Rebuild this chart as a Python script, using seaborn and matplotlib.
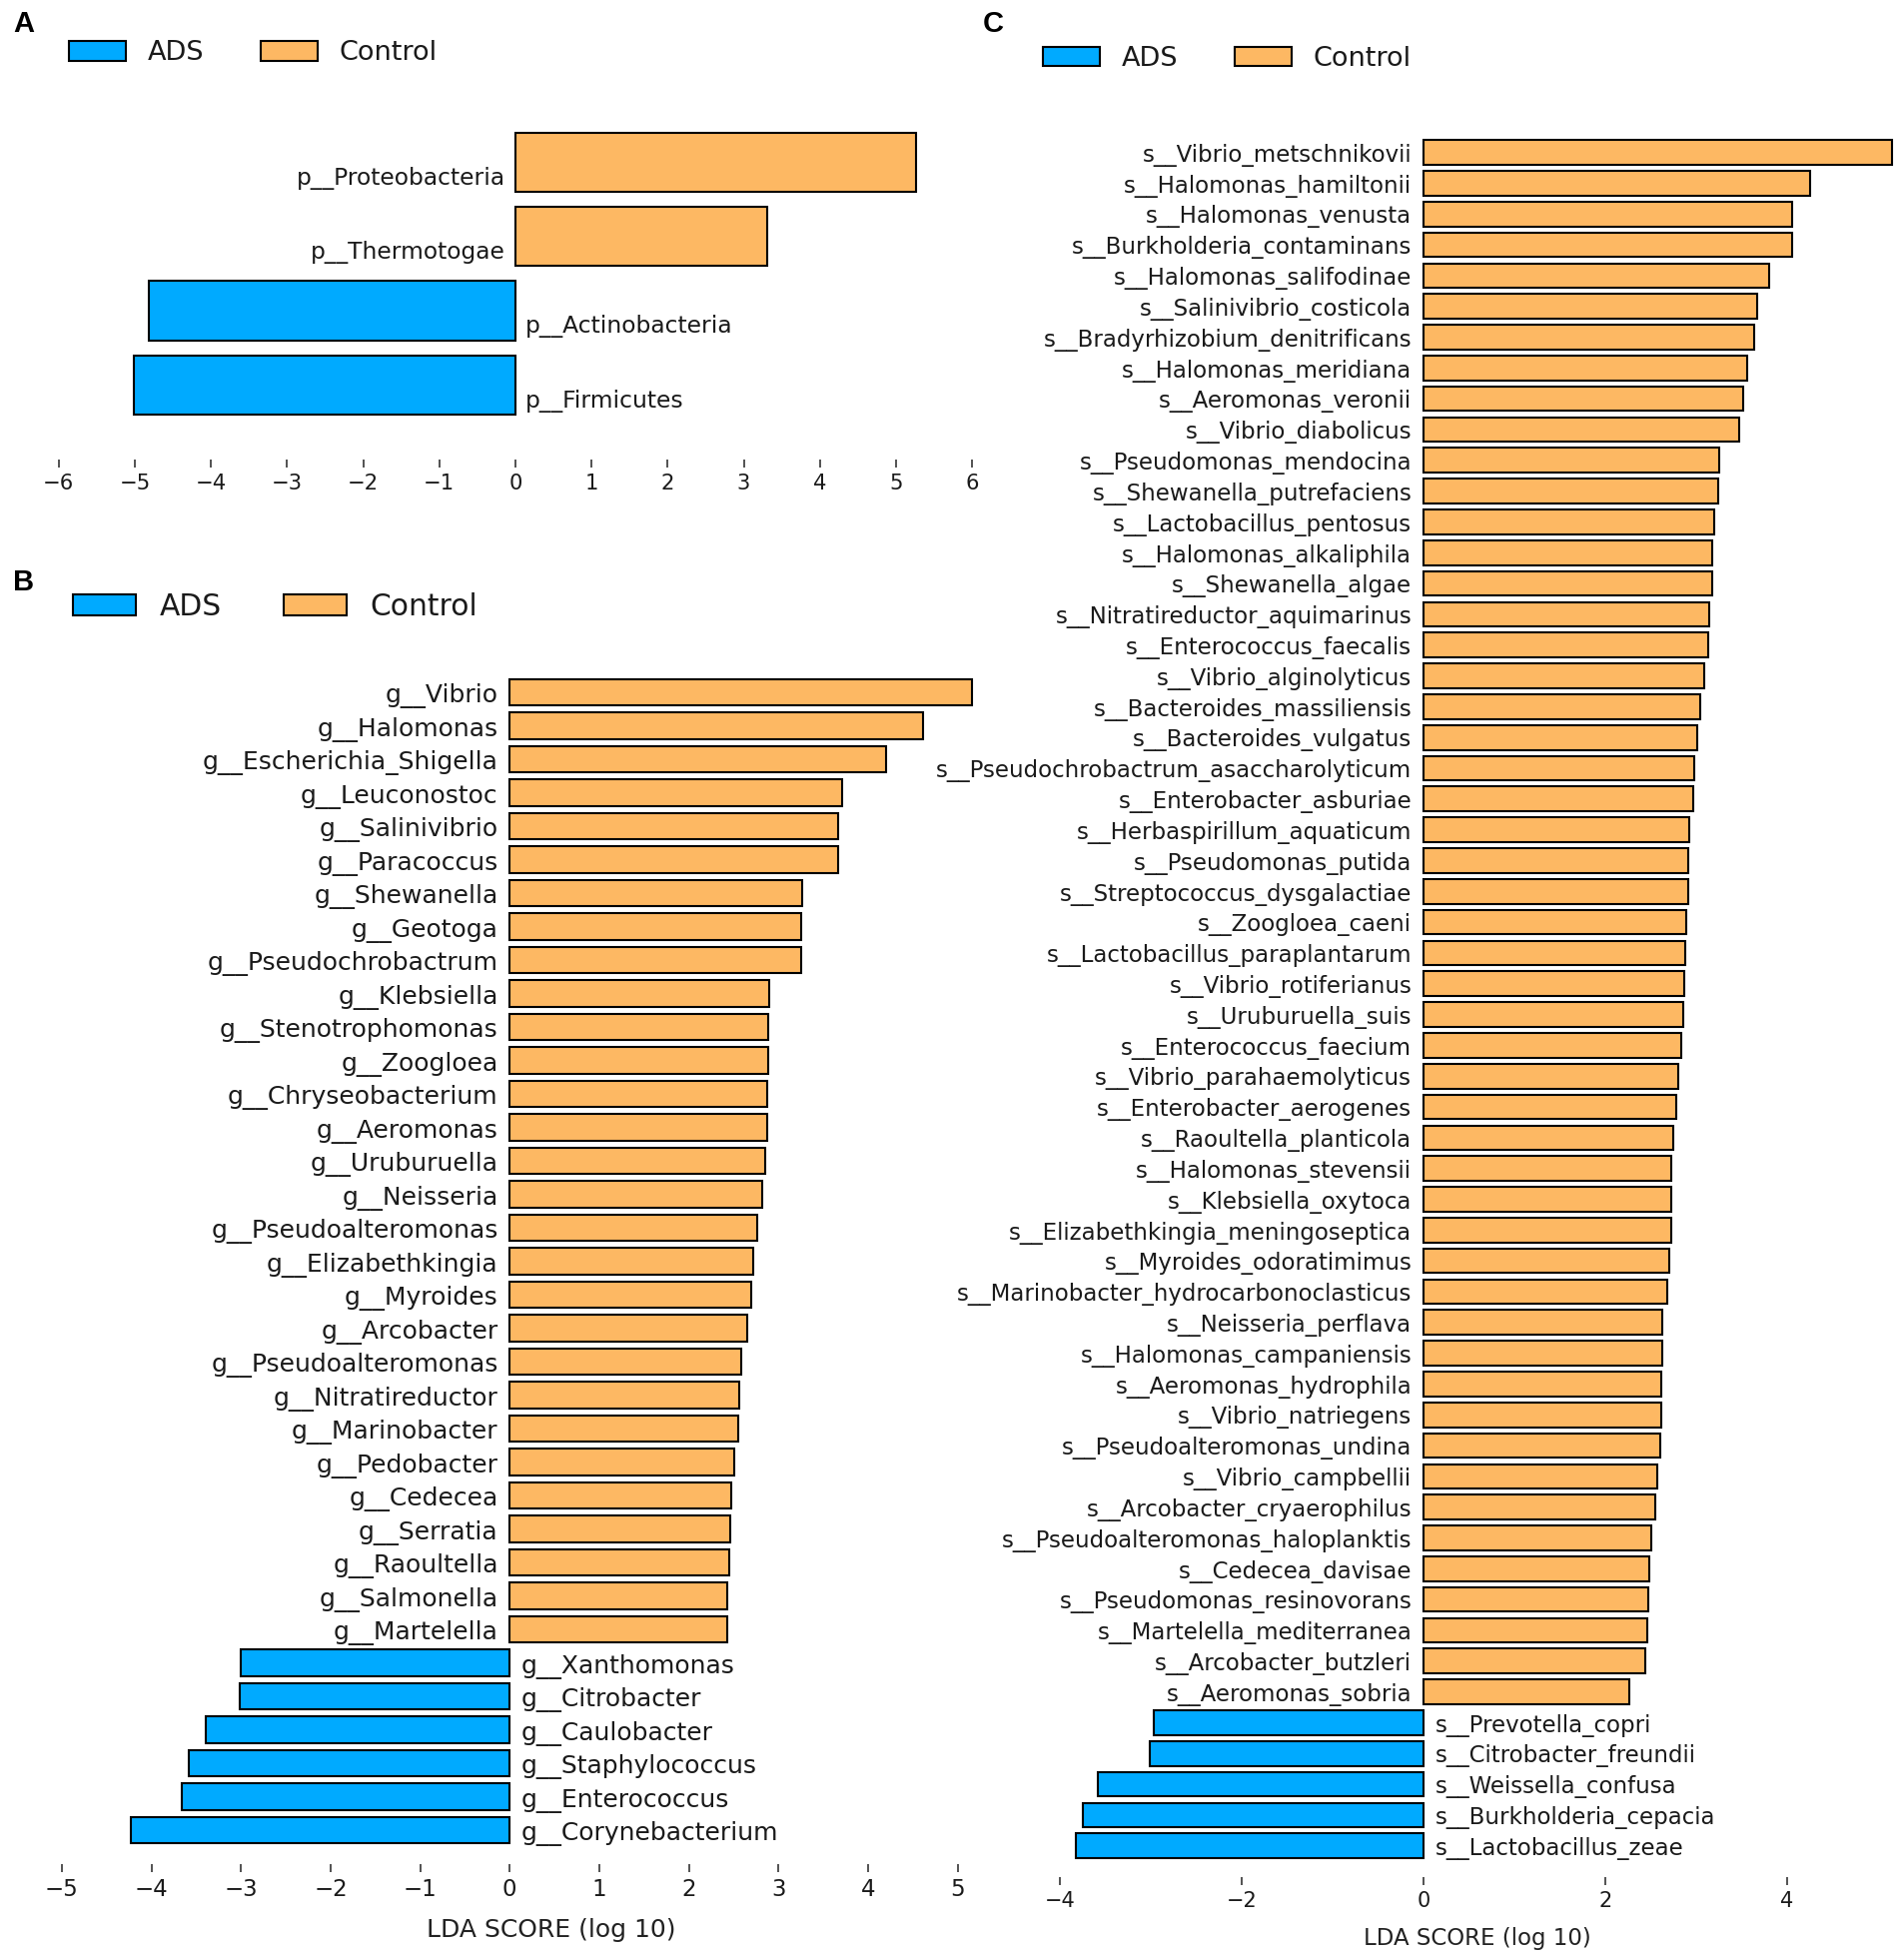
import numpy as np
import pandas as pd
import matplotlib
matplotlib.use("Agg")
import matplotlib.pyplot as plt
import seaborn as sns
from matplotlib.patches import Patch

# ---------------- data ----------------
groups = ["ADS", "Control"]
group_colors = ["#00AAFF", "#FDB863"]

a_labels = ["p__Proteobacteria", "p__Thermotogae", "p__Actinobacteria", "p__Firmicutes"]
a_scores = [5.26, 3.31, -4.82, -5.01]
a_ticks = [-6, -5, -4, -3, -2, -1, 0, 1, 2, 3, 4, 5, 6]

b_labels = ["g__Vibrio", "g__Halomonas", "g__Escherichia_Shigella", "g__Leuconostoc",
            "g__Salinivibrio", "g__Paracoccus", "g__Shewanella", "g__Geotoga",
            "g__Pseudochrobactrum", "g__Klebsiella", "g__Stenotrophomonas", "g__Zoogloea",
            "g__Chryseobacterium", "g__Aeromonas", "g__Uruburuella", "g__Neisseria",
            "g__Pseudoalteromonas", "g__Elizabethkingia", "g__Myroides", "g__Arcobacter",
            "g__Pseudoalteromonas", "g__Nitratireductor", "g__Marinobacter", "g__Pedobacter",
            "g__Cedecea", "g__Serratia", "g__Raoultella", "g__Salmonella", "g__Martelella",
            "g__Xanthomonas", "g__Citrobacter", "g__Caulobacter", "g__Staphylococcus",
            "g__Enterococcus", "g__Corynebacterium"]
b_scores = [5.16, 4.61, 4.20, 3.71, 3.67, 3.67, 3.27, 3.26, 3.26, 2.90, 2.89, 2.89,
            2.88, 2.87, 2.85, 2.82, 2.76, 2.72, 2.70, 2.65, 2.59, 2.56, 2.55, 2.51,
            2.47, 2.46, 2.45, 2.43, 2.43,
            -3.00, -3.01, -3.39, -3.58, -3.66, -4.23]
b_ticks = [-5, -4, -3, -2, -1, 0, 1, 2, 3, 4, 5]

c_labels = ["s__Vibrio_metschnikovii", "s__Halomonas_hamiltonii", "s__Halomonas_venusta",
            "s__Burkholderia_contaminans", "s__Halomonas_salifodinae", "s__Salinivibrio_costicola",
            "s__Bradyrhizobium_denitrificans", "s__Halomonas_meridiana", "s__Aeromonas_veronii",
            "s__Vibrio_diabolicus", "s__Pseudomonas_mendocina", "s__Shewanella_putrefaciens",
            "s__Lactobacillus_pentosus", "s__Halomonas_alkaliphila", "s__Shewanella_algae",
            "s__Nitratireductor_aquimarinus", "s__Enterococcus_faecalis", "s__Vibrio_alginolyticus",
            "s__Bacteroides_massiliensis", "s__Bacteroides_vulgatus",
            "s__Pseudochrobactrum_asaccharolyticum", "s__Enterobacter_asburiae",
            "s__Herbaspirillum_aquaticum", "s__Pseudomonas_putida", "s__Streptococcus_dysgalactiae",
            "s__Zoogloea_caeni", "s__Lactobacillus_paraplantarum", "s__Vibrio_rotiferianus",
            "s__Uruburuella_suis", "s__Enterococcus_faecium", "s__Vibrio_parahaemolyticus",
            "s__Enterobacter_aerogenes", "s__Raoultella_planticola", "s__Halomonas_stevensii",
            "s__Klebsiella_oxytoca", "s__Elizabethkingia_meningoseptica", "s__Myroides_odoratimimus",
            "s__Marinobacter_hydrocarbonoclasticus", "s__Neisseria_perflava",
            "s__Halomonas_campaniensis", "s__Aeromonas_hydrophila", "s__Vibrio_natriegens",
            "s__Pseudoalteromonas_undina", "s__Vibrio_campbellii", "s__Arcobacter_cryaerophilus",
            "s__Pseudoalteromonas_haloplanktis", "s__Cedecea_davisae", "s__Pseudomonas_resinovorans",
            "s__Martelella_mediterranea", "s__Arcobacter_butzleri", "s__Aeromonas_sobria",
            "s__Prevotella_copri", "s__Citrobacter_freundii", "s__Weissella_confusa",
            "s__Burkholderia_cepacia", "s__Lactobacillus_zeae"]
c_scores = [5.15, 4.25, 4.06, 4.05, 3.80, 3.67, 3.64, 3.56, 3.52, 3.47,
            3.25, 3.24, 3.20, 3.18, 3.18, 3.14, 3.13, 3.09, 3.04, 3.01,
            2.98, 2.97, 2.92, 2.91, 2.91, 2.89, 2.88, 2.87, 2.86, 2.83,
            2.80, 2.78, 2.75, 2.73, 2.73, 2.72, 2.70, 2.68, 2.63, 2.63,
            2.61, 2.61, 2.60, 2.57, 2.55, 2.50, 2.48, 2.47, 2.46, 2.44,
            2.26,
            -2.97, -3.01, -3.58, -3.75, -3.82]
c_ticks = [-4, -2, 0, 2, 4]

x_title = "LDA SCORE (log 10)"

# ---------------- style ----------------
sns.set_theme(style="white")
plt.rcParams["font.family"] = ["DejaVu Sans"]

W, H = 1904, 1962
fig = plt.figure(figsize=(W / 100, H / 100), dpi=100)
palette = dict(zip(groups, group_colors))
TXT = "#1a1a1a"


def make_axes(zero_px, unit_px, xlim, c0_px, sp_px, n):
    left = zero_px + xlim[0] * unit_px
    right = zero_px + xlim[1] * unit_px
    top = c0_px - sp_px
    bottom = c0_px + n * sp_px
    ax = fig.add_axes([left / W, 1 - bottom / H, (right - left) / W, (bottom - top) / H])
    return ax, (left, right, top, bottom)


def draw_panel(ax, labels, scores, xlim, ticks, label_fs, tick_fs):
    n = len(labels)
    df = pd.DataFrame({
        "key": [f"{i:03d}" for i in range(n)],
        "label": labels,
        "score": scores,
    })
    df["group"] = np.where(df["score"] < 0, "ADS", "Control")
    sns.barplot(data=df, x="score", y="key", hue="group", hue_order=groups,
                order=list(df["key"]), palette=palette, dodge=False, orient="h",
                width=0.8, edgecolor="black", linewidth=1.5, legend=False,
                saturation=1, ax=ax)
    ax.set_xlim(*xlim)
    ax.set_ylim(n, -1)
    ax.set_yticks([])
    ax.set_ylabel("")
    ax.set_xlabel("")
    ax.set_xticks(ticks)
    for s in ax.spines.values():
        s.set_visible(False)
    ax.grid(False)
    ax.tick_params(axis="x", bottom=True, direction="out", length=6, width=1.3,
                   color="#444444", pad=4.5, labelsize=tick_fs, labelcolor=TXT)
    off = df["score"].abs().max() / 40.0
    for i, (lab, v) in enumerate(zip(df["label"], df["score"])):
        if v >= 0:
            ax.text(-off, i + 0.3, lab, ha="right", va="baseline", fontsize=label_fs, color=TXT)
        else:
            ax.text(off, i + 0.3, lab, ha="left", va="baseline", fontsize=label_fs, color=TXT)


def add_legend(ax, x_px, y_px, fs):
    handles = [Patch(facecolor=c, edgecolor="black", linewidth=1.5, label=g)
               for g, c in zip(groups, group_colors)]
    leg = ax.legend(handles=handles, loc="center left",
                    bbox_to_anchor=(x_px / W, 1 - y_px / H), bbox_transform=fig.transFigure,
                    ncol=2, frameon=False, fontsize=fs, handlelength=2.1, handleheight=0.74,
                    handletextpad=0.8, columnspacing=2.1, borderpad=0, borderaxespad=0)
    for t in leg.get_texts():
        t.set_color(TXT)


def add_xlabel(ax, box, x_px, y_px, fs):
    left, right, top, bottom = box
    ax.set_xlabel(x_title, fontsize=fs, color="#222222")
    ax.xaxis.set_label_coords((x_px - left) / (right - left), (bottom - y_px) / (bottom - top))
    ax.xaxis.label.set_verticalalignment("center")


# Panel A
axA, boxA = make_axes(516.0, 76.2, (-6.2, 6.2), 162.3, 74.4, len(a_labels))
draw_panel(axA, a_labels, a_scores, (-6.2, 6.2), a_ticks, 16.8, 15.2)
add_legend(axA, 69, 53.3, 19.5)

# Panel B
axB, boxB = make_axes(510.2, 89.66, (-5.3, 5.3), 693.0, 33.5, len(b_labels))
draw_panel(axB, b_labels, b_scores, (-5.3, 5.3), b_ticks, 18.0, 16.5)
add_legend(axB, 73.4, 607.5, 21.4)
add_xlabel(axB, boxB, 552, 1931.7, 18.0)

# Panel C
axC, boxC = make_axes(1425.0, 91.0, (-4.1, 5.2), 152.6, 30.82, len(c_labels))
draw_panel(axC, c_labels, c_scores, (-4.1, 5.2), c_ticks, 16.5, 15.0)
add_legend(axC, 1044, 58.8, 19.5)
add_xlabel(axC, boxC, 1479, 1940, 16.5)

# Panel letters
for letter, (px, py) in zip(["A", "B", "C"], [(24, 24), (24, 583), (994, 24)]):
    fig.text(px / W, 1 - py / H, letter, fontsize=21, fontweight="bold",
             ha="center", va="center", color="black", family=["Liberation Sans", "DejaVu Sans"])

fig.savefig("out.png", dpi=100, facecolor="white")
